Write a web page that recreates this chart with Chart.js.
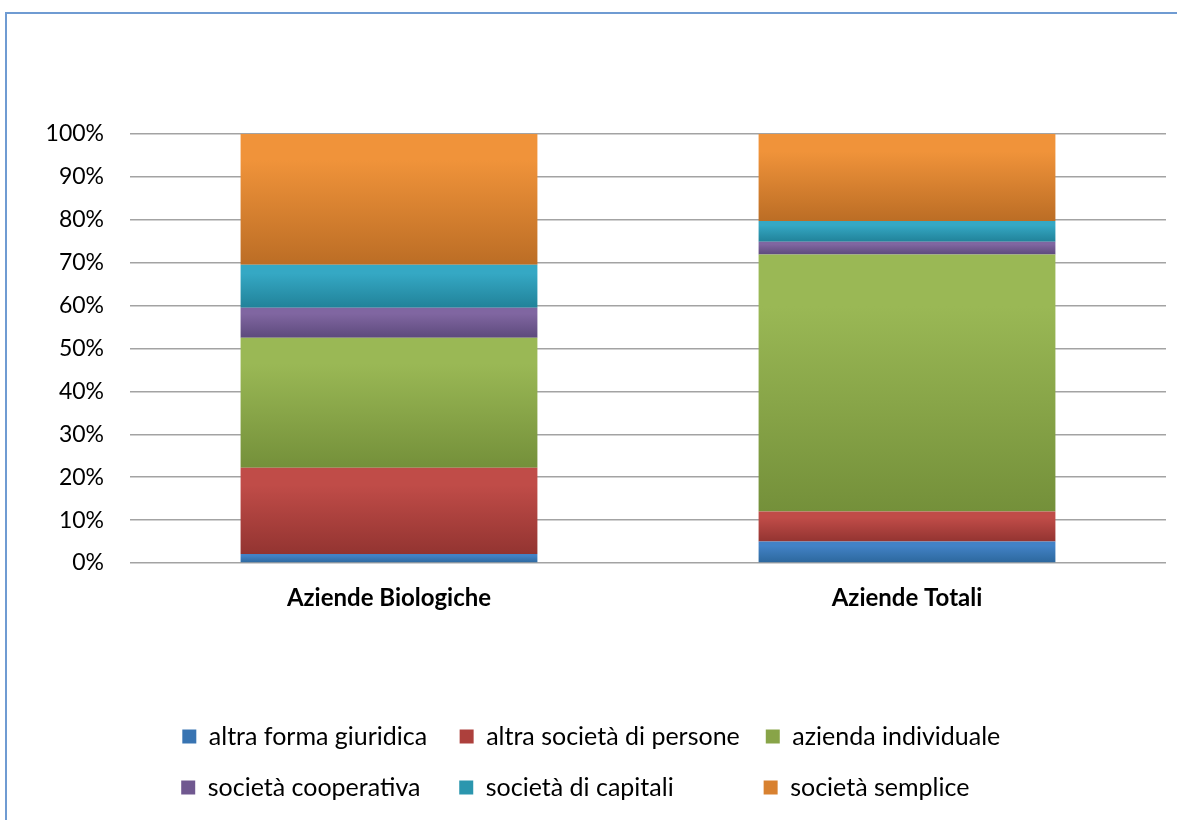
<!DOCTYPE html>
<html>
<head>
<meta charset="utf-8">
<script src="https://cdn.jsdelivr.net/npm/chart.js@4.4.1/dist/chart.umd.min.js"></script>
<style>
  html, body { margin: 0; padding: 0; background: #fff; overflow: hidden; }
  .frame { position: absolute; left: 5px; top: 12px; width: 1200px; height: 840px; border: 2px solid #6f9bd2; box-sizing: border-box; }
  .wrap { position: absolute; left: 0; top: 0; width: 1177px; height: 820px; }
</style>
</head>
<body>
<div class="frame"></div>
<div class="wrap"><canvas id="legalForms"></canvas></div>
<script>
const categories = ["Aziende Biologiche", "Aziende Totali"]
const seriesNames = ["altra forma giuridica", "altra società di persone", "azienda individuale", "società cooperativa", "società di capitali", "società semplice"]
const altraForma = [2.1, 5.0]
const altraSocieta = [20.1, 7.0]
const aziendaIndividuale = [30.3, 59.9]
const cooperativa = [7.0, 3.0]
const capitali = [10.0, 4.8]
const semplice = [30.5, 20.3]
const yTicks = [0, 10, 20, 30, 40, 50, 60, 70, 80, 90, 100]

const seriesValues = [altraForma, altraSocieta, aziendaIndividuale, cooperativa, capitali, semplice]
const topColors = ['#4282c6', '#c04c48', '#9ab855', '#8066a1', '#35a8c4', '#f0933a']
const bottomColors = ['#2c679c', '#933431', '#74903a', '#5d4a7c', '#218299', '#bb6d25']
const flatColors = ['#3874b2', '#ad403c', '#88a448', '#705890', '#2b96ae', '#d88130']

const font = "Lato, 'Open Sans', sans-serif"
const legendSize = 25

// gradient per segment, from lighter top to darker bottom
const segmentFill = (context) => {
  const chart = context.chart
  const y = chart.scales.y
  const d = context.datasetIndex
  if (!y || context.dataIndex === undefined) return flatColors[d]
  const i = context.dataIndex
  let base = 0
  for (let k = 0; k < d; k++) base += seriesValues[k][i]
  const top = base + seriesValues[d][i]
  const g = chart.ctx.createLinearGradient(0, y.getPixelForValue(top), 0, y.getPixelForValue(base))
  g.addColorStop(0, topColors[d])
  g.addColorStop(0.2, topColors[d])
  g.addColorStop(1, bottomColors[d])
  return g
}

const canva = document.getElementById("legalForms")

new Chart(canva, {
  type: "bar",
  data: {
    labels: categories,
    datasets: seriesNames.map((name, d) => ({
      label: name,
      data: seriesValues[d],
      backgroundColor: segmentFill,
      borderWidth: 0,
      barPercentage: 1,
      categoryPercentage: 0.573
    }))
  },
  options: {
    responsive: true,
    maintainAspectRatio: false,
    animation: false,
    layout: {
      padding: { top: 134, right: 11, bottom: 10, left: 23 }
    },
    scales: {
      x: {
        stacked: true,
        grid: { display: false, drawTicks: false },
        border: { display: false },
        ticks: {
          color: '#000',
          padding: 21,
          font: { family: font, size: 24, weight: 'bold' }
        },
        afterFit: (scale) => { scale.height = 135 }
      },
      y: {
        stacked: true,
        min: 0,
        max: 100,
        afterBuildTicks: (scale) => { scale.ticks = yTicks.map(v => ({ value: v })) },
        grid: { color: '#a3a3a3', lineWidth: 1.5, drawTicks: false },
        border: { display: false },
        ticks: {
          color: '#000',
          padding: 26,
          font: { family: font, size: 23 },
          callback: (v) => v + '%'
        },
        afterFit: (scale) => { scale.width = 107 }
      }
    },
    plugins: {
      tooltip: { enabled: false },
      legend: {
        position: 'bottom',
        labels: {
          color: '#000',
          boxWidth: 14,
          boxHeight: 14,
          padding: 26,
          font: { family: font, size: legendSize },
          generateLabels: (chart) => {
            const ctx = chart.ctx
            ctx.save()
            ctx.font = legendSize + "px " + font
            // pad texts so both rows line up in three columns
            const minCols = [225, 0, 214]
            const widths = seriesNames.map(t => ctx.measureText(t).width)
            const items = seriesNames.map((name, d) => {
              const col = d % 3
              const target = Math.max(widths[col], widths[col + 3], minCols[col])
              let text = name
              while (ctx.measureText(text).width < target - 2) text += ' '
              return {
                text: text,
                fillStyle: flatColors[d],
                strokeStyle: flatColors[d],
                lineWidth: 0,
                fontColor: '#000',
                hidden: false,
                datasetIndex: d
              }
            })
            ctx.restore()
            return items
          }
        }
      }
    }
  }
})
</script>
</body>
</html>
